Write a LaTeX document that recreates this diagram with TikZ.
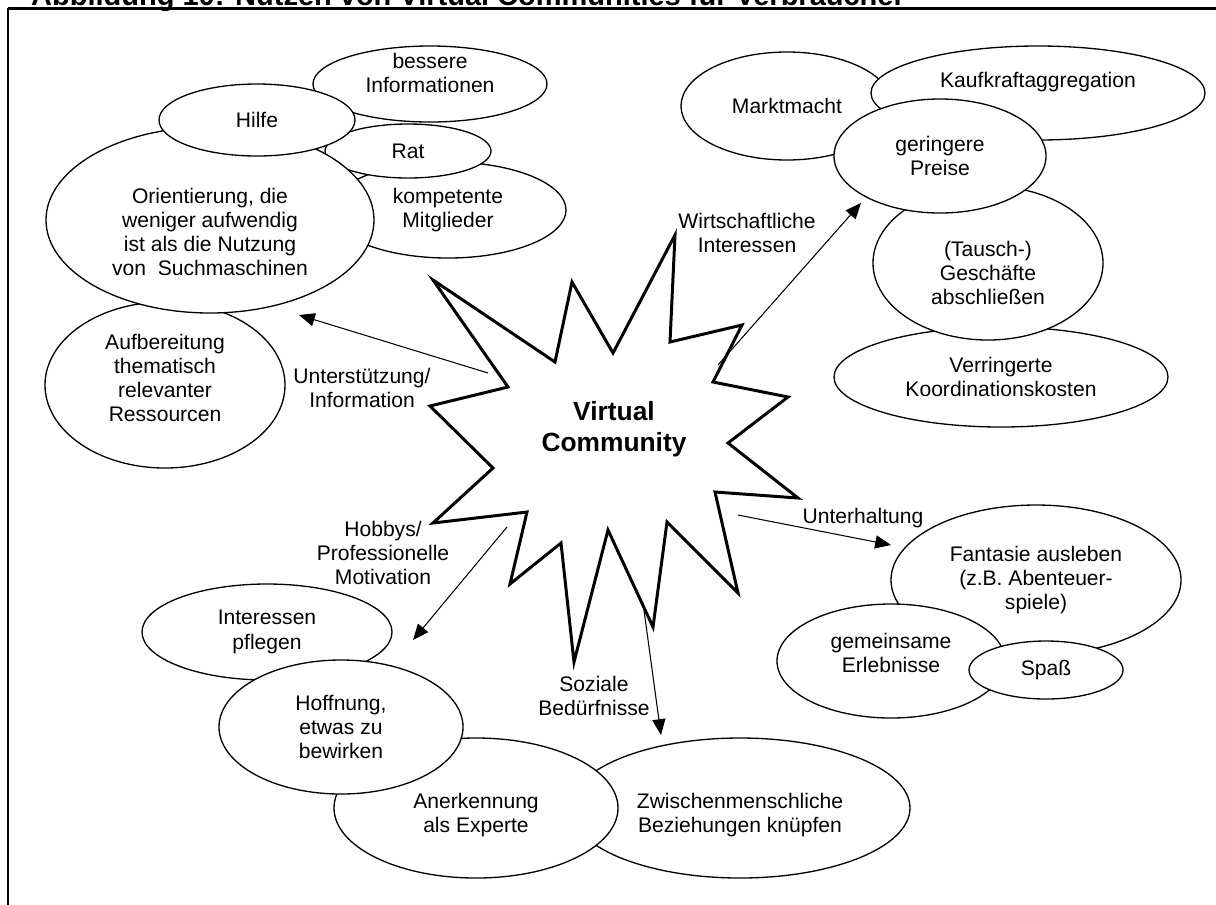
\documentclass[tikz,border=0pt]{standalone}
\usepackage{fontspec}
\setmainfont{Liberation Sans}
\usetikzlibrary{shapes.geometric,arrows.meta}

\begin{document}
\begin{tikzpicture}[
        x=0.02cm, y=-0.02cm,
        every node/.style={align=center, font=\fontsize{12}{13.8}\selectfont},
        bubble/.style 2 args={ellipse, draw, fill=white, line width=0.75pt, inner sep=0pt, minimum width=#1*0.02cm, minimum height=#2*0.02cm},
        burst/.style={draw, fill=white, line width=1.7pt, line join=miter},
        arrow/.style={line width=0.6pt, ->, >={Triangle[length=9pt, width=7.5pt]}}
    ]
    \useasboundingbox (0,0) rectangle (1216,904);

    % Frame and title
    \node[anchor=base west, font=\fontsize{16.5}{19}\selectfont\bfseries] (title) at (25,5) {Abbildung 10: Nutzen von Virtual Communities für Verbraucher};
    \draw[line width=1.7pt] (8,8) -- (1220,8);
    \draw[line width=0.7pt] (8,8) -- (8,910);

    % Nodes: Unterstuetzung
    \node (bessere) [bubble={234}{76}, label={[yshift=0.22cm]center:bessere\\Informationen}] at (430,84) {};
    \node (kompetent) [bubble={236}{96}] at (448,210) {kompetente\\Mitglieder};
    \node (rat) [bubble={166}{54}] at (408,151) {Rat};
    \node (aufbereitung) [bubble={240}{166}, label={[yshift=0.14cm]center:Aufbereitung\\thematisch\\relevanter\\Ressourcen}] at (165,385) {};
    \node (orientierung) [bubble={328}{186}, label={[yshift=-0.24cm]center:Orientierung, die\\weniger aufwendig\\ist als die Nutzung\\von\ \ Suchmaschinen}] at (210,220) {};
    \node (hilfe) [bubble={196}{72}] at (257,120) {Hilfe};

    % Nodes: Wirtschaft
    \node (marktmacht) [bubble={212}{108}] at (787,106) {Marktmacht};
    \node (kaufkraft) [bubble={334}{94}, label={[yshift=0.22cm]center:Kaufkraftaggregation}] at (1038,93) {};
    \node (koordination) [bubble={334}{100}] at (1001,377) {Verringerte\\Koordinationskosten};
    \node (tausch) [bubble={230}{154}, label={[yshift=-0.2cm]center:(Tausch-)\\Geschäfte\\abschließen}] at (988,263) {};
    \node (preise) [bubble={212}{114}] at (940,156) {geringere\\Preise};

    % Nodes: Hobbys / Soziales
    \node (interessen) [bubble={250}{96}] at (267,632) {Interessen\\pflegen};
    \node (beziehungen) [bubble={340}{140}, label={[yshift=-0.14cm]center:Zwischenmenschliche\\Beziehungen knüpfen}] at (740,808) {};
    \node (anerkennung) [bubble={284}{140}, label={[yshift=-0.14cm]center:Anerkennung\\als Experte}] at (476,808) {};
    \node (hoffnung) [bubble={244}{134}] at (341,727) {Hoffnung,\\etwas zu\\bewirken};

    % Nodes: Unterhaltung
    \node (fantasie) [bubble={290}{150}] at (1036,580) {Fantasie ausleben\\(z.B. Abenteuer-\\spiele)};
    \node (erlebnisse) [bubble={228}{114}, label={[yshift=0.16cm]center:gemeinsame\\Erlebnisse}] at (891,661) {};
    \node (spass) [bubble={154}{58}] at (1046,670) {Spaß};

    % Star
    \draw[burst] (433,280) -- (555,362) -- (572,282) -- (613,353) -- (675,235) -- (670,342)
        -- (742,325) -- (713,382) -- (788,397) -- (728,443) -- (798,498) -- (715,492)
        -- (738,593) -- (667,522) -- (653,627) -- (608,530) -- (574,662) -- (561,543)
        -- (510,584) -- (527,512) -- (433,523) -- (493,468) -- (430,406) -- (508,387) -- cycle;
    \node (vc) [font=\fontsize{15}{17.5}\selectfont\bfseries] at (614,429) {Virtual\\Community};

    % Arrow ends
    \coordinate (a1) at (488,373);  \coordinate (b1) at (299,315);
    \coordinate (a2) at (718,365);  \coordinate (b2) at (861,203);
    \coordinate (a3) at (738,515);  \coordinate (b3) at (891,545);
    \coordinate (a4) at (507,527);  \coordinate (b4) at (413,640);
    \coordinate (a5) at (643,603);  \coordinate (b5) at (661,735);

    % Arrows
    \draw [arrow] (a1) -- (b1);
    \draw [arrow] (a2) -- (b2);
    \draw [arrow] (a3) -- (b3);
    \draw [arrow] (a4) -- (b4);
    \draw [arrow] (a5) -- (b5);

    % Labels
    \node (lunterst) at (362,388) {Unterstützung/\\Information};
    \node (lwirt) at (747,233) {Wirtschaftliche\\Interessen};
    \node (lunterh) at (863,518) {Unterhaltung};
    \node (lhobby) at (383,553) {Hobbys/\\Professionelle\\Motivation};
    \node (lsozial) at (594,696) {Soziale\\Bedürfnisse};

\end{tikzpicture}
\end{document}
